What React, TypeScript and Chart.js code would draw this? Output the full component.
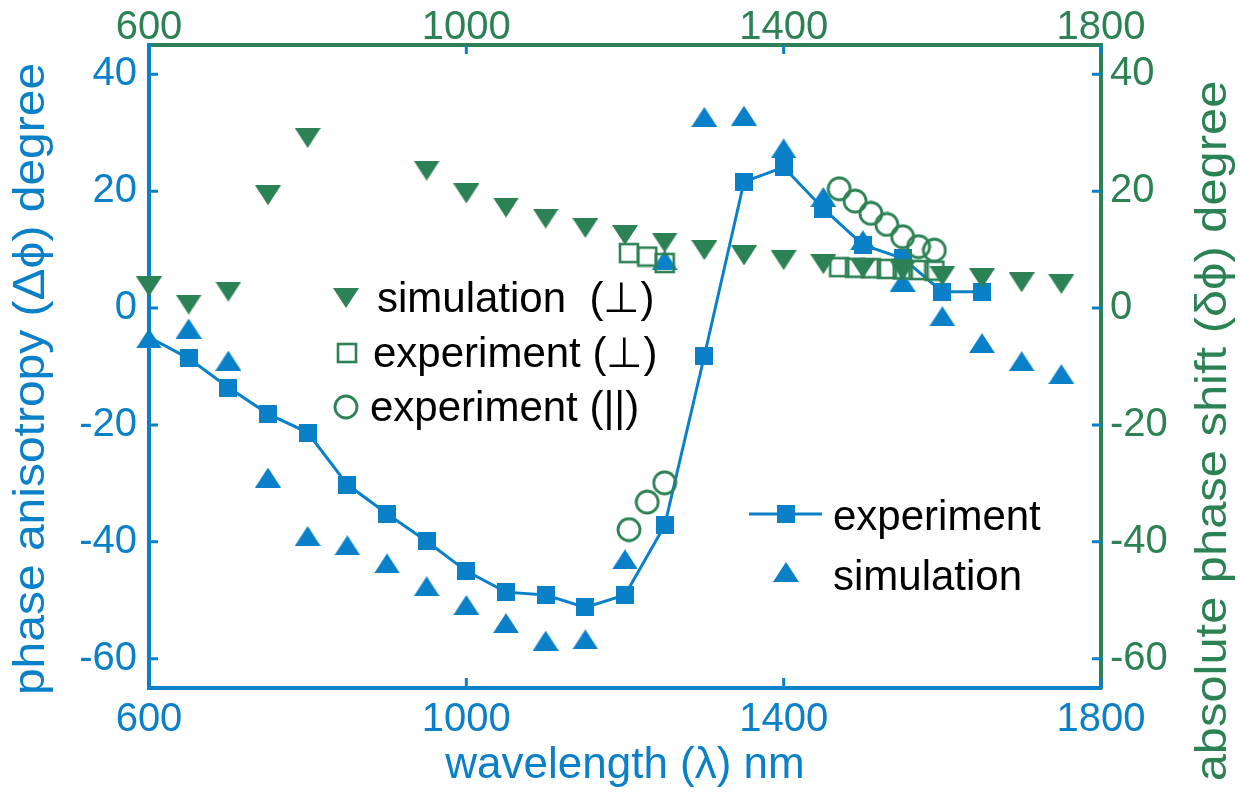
import React, { useEffect, useRef } from "react";
import { Chart, registerables } from "chart.js";
Chart.register(...registerables);

const BLUE = "#0a80c8";
const GREEN = "#2d8255";
const FONT = '"Liberation Sans", Arial, sans-serif';

// experiment: phase anisotropy (left axis)
const expWl = [600, 650, 700, 750, 800, 850, 900, 950, 1000, 1050, 1100, 1150, 1200, 1250, 1300, 1350, 1400, 1450, 1500, 1550, 1600, 1650];
const expPhase = [-5.0, -8.6, -13.6, -18.1, -21.3, -30.2, -35.2, -39.9, -45.0, -48.6, -49.1, -51.2, -49.1, -37.2, -8.2, 21.6, 24.1, 17.0, 10.8, 8.5, 2.8, 2.8];

// simulation: phase anisotropy (left axis)
const simWl = [600, 650, 700, 750, 800, 850, 900, 950, 1000, 1050, 1100, 1150, 1200, 1250, 1300, 1350, 1400, 1450, 1500, 1550, 1600, 1650, 1700, 1750];
const simPhase = [-5.2, -3.5, -9.0, -29.0, -39.0, -40.6, -43.7, -47.6, -50.8, -53.9, -56.9, -56.7, -43.0, 8.2, 32.7, 32.9, 27.3, 19.0, 11.6, 4.5, -1.4, -6.0, -9.1, -11.3];

// simulation (perpendicular): absolute phase shift (right axis)
const simPerpWl = [600, 650, 700, 750, 800, 950, 1000, 1050, 1100, 1150, 1200, 1250, 1300, 1350, 1400, 1450, 1500, 1550, 1600, 1650, 1700, 1750];
const simPerpShift = [3.7, 0.6, 2.8, 19.3, 29.1, 23.5, 19.6, 17.2, 15.3, 13.7, 12.5, 11.2, 9.9, 9.0, 8.2, 7.5, 6.8, 6.4, 5.5, 5.1, 4.4, 4.1];

// experiment (perpendicular): absolute phase shift (right axis)
const expPerpWl = [1205, 1228, 1250, 1470, 1490, 1510, 1530, 1550, 1570, 1590];
const expPerpShift = [9.4, 8.8, 7.7, 7.0, 6.9, 6.8, 6.7, 6.6, 6.5, 6.4];

// experiment (parallel): absolute phase shift (right axis)
const expParWl = [1205, 1228, 1250, 1470, 1490, 1510, 1530, 1550, 1570, 1590];
const expParShift = [-37.9, -33.2, -29.9, 20.4, 18.3, 16.2, 14.3, 12.2, 10.5, 9.9];

const xTicks = [600, 1000, 1400, 1800];
const yTicks = [-60, -40, -20, 0, 20, 40];

const xTitle = "wavelength (λ) nm";
const yTitle = "phase anisotropy (Δϕ) degree";
const y2Title = "absolute phase shift (δϕ) degree";
const legendTop = ["simulation  (⊥)", "experiment (⊥)", "experiment (||)"];
const legendBottom = ["experiment", "simulation"];

function zip(xs: number[], ys: number[]) {
  return xs.map((x, i) => ({ x, y: ys[i] }));
}

function marker(w: number, h: number, draw: (c: CanvasRenderingContext2D) => void) {
  const c = document.createElement("canvas");
  c.width = w;
  c.height = h;
  const ctx = c.getContext("2d")!;
  draw(ctx);
  return c;
}

function drawSquareFilled(ctx: CanvasRenderingContext2D, x: number, y: number, s: number) {
  ctx.fillStyle = BLUE;
  ctx.fillRect(x - s / 2, y - s / 2, s, s);
}
function drawUpTri(ctx: CanvasRenderingContext2D, x: number, y: number, w: number, h: number, color: string) {
  ctx.fillStyle = color;
  ctx.beginPath();
  ctx.moveTo(x, y - h / 2);
  ctx.lineTo(x + w / 2, y + h / 2);
  ctx.lineTo(x - w / 2, y + h / 2);
  ctx.closePath();
  ctx.fill();
}
function drawDownTri(ctx: CanvasRenderingContext2D, x: number, y: number, w: number, h: number, color: string) {
  ctx.fillStyle = color;
  ctx.beginPath();
  ctx.moveTo(x - w / 2, y - h / 2);
  ctx.lineTo(x + w / 2, y - h / 2);
  ctx.lineTo(x, y + h / 2);
  ctx.closePath();
  ctx.fill();
}
function drawHollowSquare(ctx: CanvasRenderingContext2D, x: number, y: number, s: number) {
  ctx.strokeStyle = GREEN;
  ctx.lineWidth = 2.6;
  ctx.strokeRect(x - s / 2, y - s / 2, s, s);
}
function drawHollowCircle(ctx: CanvasRenderingContext2D, x: number, y: number, r: number) {
  ctx.strokeStyle = GREEN;
  ctx.lineWidth = 2.8;
  ctx.beginPath();
  ctx.arc(x, y, r, 0, Math.PI * 2);
  ctx.stroke();
}

export default function App() {
  const ref = useRef<HTMLCanvasElement | null>(null);

  useEffect(() => {
    if (!ref.current) return;
    const mSquare = marker(18, 18, (c) => drawSquareFilled(c, 9, 9, 18));
    const mUp = marker(26, 20, (c) => drawUpTri(c, 13, 10, 26, 20, BLUE));
    const mDown = marker(26, 20, (c) => drawDownTri(c, 13, 10, 26, 20, GREEN));
    const mHSquare = marker(22, 22, (c) => drawHollowSquare(c, 11, 11, 18));
    const mCircle = marker(26, 26, (c) => drawHollowCircle(c, 13, 13, 11));

    const overlay = {
      id: "overlay",
      afterDraw(chart: any) {
        const { ctx, chartArea, scales } = chart;
        const { left, right, top, bottom } = chartArea;
        ctx.save();
        // inward ticks
        ctx.strokeStyle = BLUE;
        ctx.lineWidth = 3;
        ctx.beginPath();
        xTicks.forEach((v) => {
          const px = scales.x.getPixelForValue(v);
          ctx.moveTo(px, bottom);
          ctx.lineTo(px, bottom - 10);
          ctx.moveTo(px, top);
          ctx.lineTo(px, top + 9);
        });
        yTicks.forEach((v) => {
          const py = scales.y.getPixelForValue(v);
          ctx.moveTo(left, py);
          ctx.lineTo(left + 9, py);
          ctx.moveTo(right, py);
          ctx.lineTo(right - 9, py);
        });
        ctx.stroke();

        // axis titles
        ctx.font = `44px ${FONT}`;
        ctx.textAlign = "center";
        ctx.textBaseline = "middle";
        ctx.fillStyle = BLUE;
        ctx.fillText(xTitle, (left + right) / 2, 766);
        ctx.save();
        ctx.translate(32, 379);
        ctx.rotate(-Math.PI / 2);
        ctx.scale(1.09, 1);
        ctx.fillText(yTitle, 0, 0);
        ctx.restore();
        ctx.save();
        ctx.fillStyle = GREEN;
        ctx.translate(1214, 431);
        ctx.rotate(-Math.PI / 2);
        ctx.scale(1.11, 1);
        ctx.fillText(y2Title, 0, 0);
        ctx.restore();

        // legends
        ctx.font = `42px ${FONT}`;
        ctx.textAlign = "left";
        ctx.fillStyle = "#000";
        drawDownTri(ctx, 346, 298, 26, 20, GREEN);
        ctx.fillStyle = "#000";
        ctx.fillText(legendTop[0], 377, 300);
        drawHollowSquare(ctx, 347, 353, 18);
        ctx.fillText(legendTop[1], 373, 355);
        drawHollowCircle(ctx, 346, 407, 11);
        ctx.fillText(legendTop[2], 370, 409);

        ctx.strokeStyle = BLUE;
        ctx.lineWidth = 3;
        ctx.beginPath();
        ctx.moveTo(749, 514);
        ctx.lineTo(822, 514);
        ctx.stroke();
        drawSquareFilled(ctx, 786, 514, 18);
        drawUpTri(ctx, 786, 572, 26, 20, BLUE);
        ctx.fillStyle = "#000";
        ctx.fillText(legendBottom[0], 833, 518);
        ctx.fillText(legendBottom[1], 833, 578);
        ctx.restore();
      },
    };

    const tickFont = { family: FONT, size: 40, lineHeight: 1 };
    const fmt = (v: any) => String(v);

    const chart = new Chart(ref.current, {
      type: "scatter",
      data: {
        datasets: [
          {
            label: "simulation (⊥)",
            data: zip(simPerpWl, simPerpShift),
            xAxisID: "x",
            yAxisID: "y2",
            pointStyle: mDown,
            pointRadius: 6,
            showLine: false,
            clip: false,
          },
          {
            label: "experiment (⊥)",
            data: zip(expPerpWl, expPerpShift),
            xAxisID: "x",
            yAxisID: "y2",
            pointStyle: mHSquare,
            pointRadius: 6,
            showLine: false,
            clip: false,
          },
          {
            label: "experiment (||)",
            data: zip(expParWl, expParShift),
            xAxisID: "x",
            yAxisID: "y2",
            pointStyle: mCircle,
            pointRadius: 6,
            showLine: false,
            clip: false,
          },
          {
            label: "experiment",
            data: zip(expWl, expPhase),
            xAxisID: "x",
            yAxisID: "y",
            showLine: true,
            borderColor: BLUE,
            borderWidth: 3,
            pointStyle: mSquare,
            pointRadius: (c: any) => (c.dataIndex === 0 ? 0 : 6),
            clip: false,
          },
          {
            label: "simulation",
            data: zip(simWl, simPhase),
            xAxisID: "x",
            yAxisID: "y",
            pointStyle: mUp,
            pointRadius: 6,
            showLine: false,
            clip: false,
          },
        ],
      },
      options: {
        animation: false,
        responsive: false,
        maintainAspectRatio: false,
        layout: { padding: 0 },
        plugins: { legend: { display: false }, tooltip: { enabled: false } },
        scales: {
          x: {
            type: "linear",
            position: "bottom",
            min: 600,
            max: 1800,
            afterBuildTicks: (s: any) => {
              s.ticks = xTicks.map((v) => ({ value: v }));
            },
            afterFit: (s: any) => {
              s.height = 107;
            },
            grid: { display: false, drawTicks: false },
            border: { display: true, color: BLUE, width: 4 },
            ticks: { color: BLUE, font: tickFont, padding: 12, maxRotation: 0, autoSkip: false, callback: fmt },
          },
          x2: {
            type: "linear",
            position: "top",
            min: 600,
            max: 1800,
            afterBuildTicks: (s: any) => {
              s.ticks = xTicks.map((v) => ({ value: v }));
            },
            afterFit: (s: any) => {
              s.height = 45;
            },
            grid: { display: false, drawTicks: false },
            border: { display: true, color: GREEN, width: 4 },
            ticks: { color: GREEN, font: tickFont, padding: -3, maxRotation: 0, autoSkip: false, callback: fmt },
          },
          y: {
            type: "linear",
            position: "left",
            min: -65,
            max: 45,
            afterBuildTicks: (s: any) => {
              s.ticks = yTicks.map((v) => ({ value: v }));
            },
            afterFit: (s: any) => {
              s.width = 149;
            },
            grid: { display: false, drawTicks: false },
            border: { display: true, color: BLUE, width: 4 },
            ticks: { color: BLUE, font: tickFont, padding: 12, callback: fmt },
          },
          y2: {
            type: "linear",
            position: "right",
            min: -65,
            max: 45,
            afterBuildTicks: (s: any) => {
              s.ticks = yTicks.map((v) => ({ value: v }));
            },
            afterFit: (s: any) => {
              s.width = 141;
            },
            grid: { display: false, drawTicks: false },
            border: { display: true, color: GREEN, width: 4 },
            ticks: { color: GREEN, font: tickFont, padding: 9, callback: fmt },
          },
        },
      },
      plugins: [overlay],
    } as any);

    return () => chart.destroy();
  }, []);

  return (
    <div style={{ position: "absolute", left: 0, top: 0, width: 1242, height: 795, background: "#fff" }}>
      <canvas ref={ref} width={1242} height={795} style={{ display: "block" }} />
    </div>
  );
}
